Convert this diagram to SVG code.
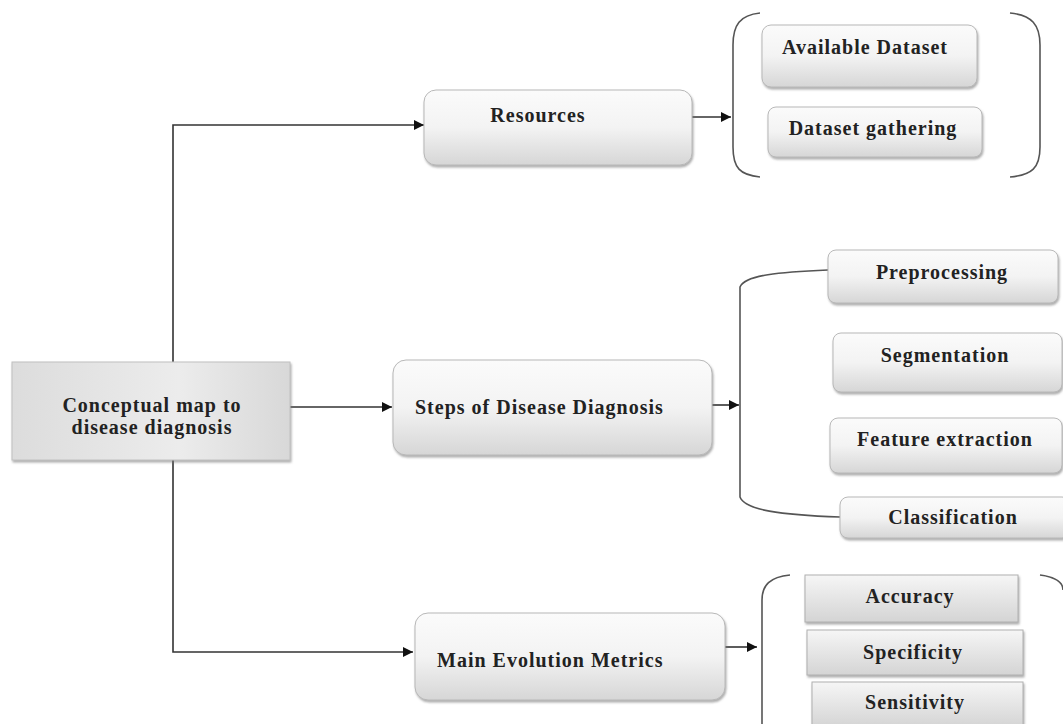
<svg xmlns="http://www.w3.org/2000/svg" width="1063" height="724" viewBox="0 0 1063 724">
<style>
.t{font-family:"Liberation Serif","Times New Roman",serif;font-weight:bold;font-size:20px;letter-spacing:1px;fill:#222}
.c{text-anchor:middle}
.box{fill:url(#g1);stroke:#b8b8b8;stroke-width:1;filter:url(#sh)}
.sq{fill:url(#g2);stroke:#b0b0b0;stroke-width:1;filter:url(#sh)}
.ln{fill:none;stroke:#333;stroke-width:1.6}
.br{fill:none;stroke:#555;stroke-width:1.6}
</style>
<defs>
<linearGradient id="g1" x1="0" y1="0" x2="0" y2="1">
<stop offset="0" stop-color="#fbfbfb"/><stop offset="0.5" stop-color="#f3f3f3"/><stop offset="1" stop-color="#d6d6d6"/>
</linearGradient>
<linearGradient id="g2" x1="0" y1="0" x2="0" y2="1">
<stop offset="0" stop-color="#f6f6f6"/><stop offset="1" stop-color="#d4d4d4"/>
</linearGradient>
<linearGradient id="g3" x1="0" y1="0" x2="1" y2="0">
<stop offset="0" stop-color="#dcdcdc"/><stop offset="0.6" stop-color="#ececec"/><stop offset="1" stop-color="#d8d8d8"/>
</linearGradient>
<filter id="sh" x="-10%" y="-10%" width="120%" height="130%">
<feDropShadow dx="1" dy="2" stdDeviation="1" flood-color="#777" flood-opacity="0.6"/>
</filter>
<marker id="ar" viewBox="0 0 10 10" refX="10" refY="5" markerWidth="10" markerHeight="10" markerUnits="userSpaceOnUse" orient="auto">
<path d="M0,0 L10,5 L0,10 z" fill="#111"/>
</marker>
</defs>

<g id="connectors">
<path class="ln" d="M173,362 V125 H424" marker-end="url(#ar)"/>
<path class="ln" d="M173,460 V652 H413" marker-end="url(#ar)"/>
<path class="ln" d="M277,407 H392" marker-end="url(#ar)"/>
<path class="ln" d="M692,117 H731" marker-end="url(#ar)"/>
<path class="ln" d="M712,405 H739" marker-end="url(#ar)"/>
<path class="ln" d="M725,647 H757" marker-end="url(#ar)"/>
<path class="br" d="M828,270 C780,272 745,275 740,287 V497 C745,510 780,515 840,517"/>
</g>

<g id="bracket-resources">
<path class="br" d="M760,13 C740,15 733,25 733,45 V147 C733,168 740,175 760,177"/>
<path class="br" d="M1010,13 C1032,15 1040,25 1040,45 V147 C1040,168 1032,175 1010,177"/>
</g>
<g id="bracket-metrics">
<path class="br" d="M790,575 C770,577 762,585 762,600 V724"/>
<path class="br" d="M1040,575 C1055,577 1063,582 1063,590"/>
</g>

<g id="node-main">
<rect x="12" y="362" width="278" height="98" fill="url(#g3)" stroke="#c0c0c0" filter="url(#sh)"/>
<text class="t c" x="152" y="412">Conceptual map to</text>
<text class="t c" x="152" y="434">disease diagnosis</text>
</g>

<g id="node-resources">
<rect class="box" x="424" y="90" width="268" height="75" rx="12"/>
<text class="t c" x="538" y="122">Resources</text>
</g>
<g id="node-available">
<rect class="box" x="762" y="25" width="215" height="62" rx="9"/>
<text class="t c" x="865" y="54">Available Dataset</text>
</g>
<g id="node-gathering">
<rect class="box" x="768" y="107" width="214" height="50" rx="8"/>
<text class="t c" x="873" y="135">Dataset gathering</text>
</g>

<g id="node-steps">
<rect class="box" x="393" y="360" width="319" height="95" rx="13"/>
<text class="t" x="415" y="414">Steps of Disease Diagnosis</text>
</g>
<g id="node-preprocessing">
<rect class="box" x="828" y="250" width="230" height="53" rx="8"/>
<text class="t c" x="942" y="279">Preprocessing</text>
</g>
<g id="node-segmentation">
<rect class="box" x="833" y="333" width="229" height="59" rx="8"/>
<text class="t c" x="945" y="362">Segmentation</text>
</g>
<g id="node-feature">
<rect class="box" x="830" y="418" width="232" height="55" rx="8"/>
<text class="t c" x="945" y="446">Feature extraction</text>
</g>
<g id="node-classification">
<rect class="box" x="840" y="497" width="230" height="41" rx="8"/>
<text class="t c" x="953" y="524">Classification</text>
</g>

<g id="node-metrics">
<rect class="box" x="415" y="613" width="310" height="87" rx="13"/>
<text class="t" x="437" y="667">Main Evolution Metrics</text>
</g>
<g id="node-accuracy">
<rect class="sq" x="805" y="575" width="213" height="47"/>
<text class="t c" x="910" y="603">Accuracy</text>
</g>
<g id="node-specificity">
<rect class="sq" x="807" y="630" width="216" height="45"/>
<text class="t c" x="913" y="659">Specificity</text>
</g>
<g id="node-sensitivity">
<rect class="sq" x="812" y="682" width="211" height="45"/>
<text class="t c" x="915" y="709">Sensitivity</text>
</g>
</svg>
